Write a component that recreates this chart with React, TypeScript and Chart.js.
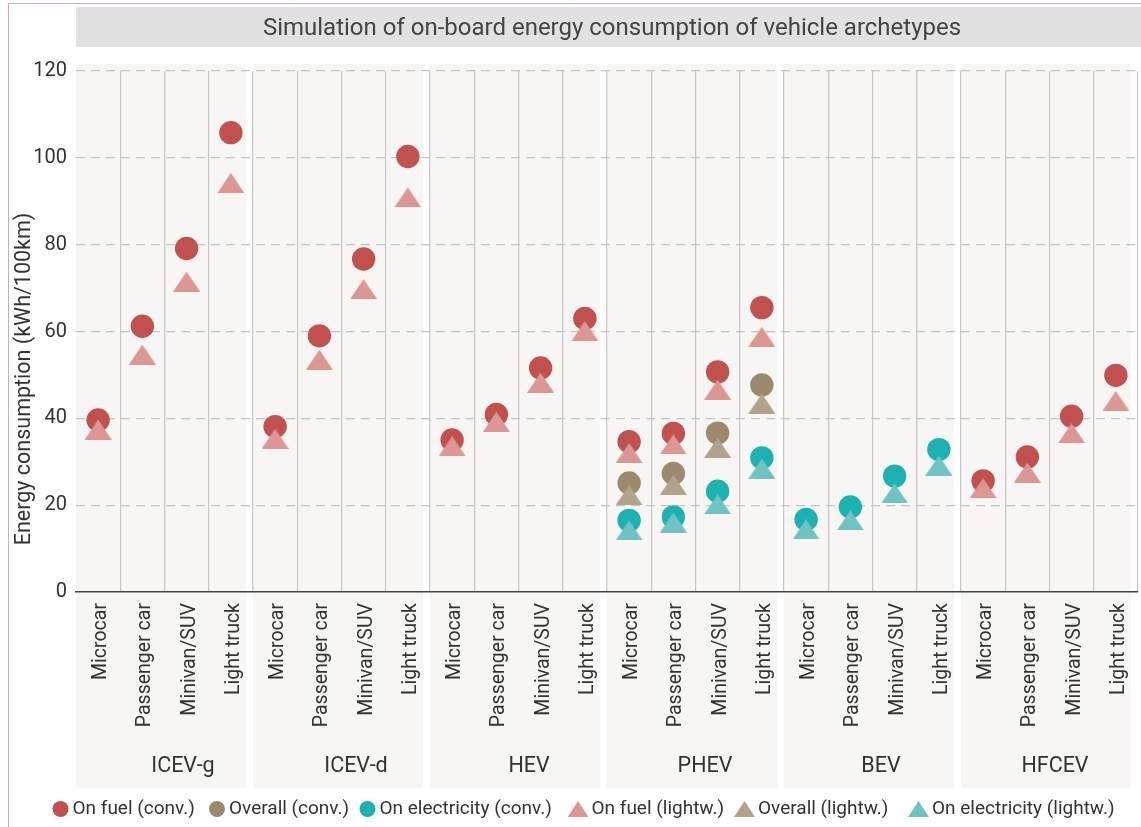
import React, { useEffect, useRef } from 'react';
import { Chart, registerables } from 'chart.js';

Chart.register(...registerables);

const chartTitle = 'Simulation of on-board energy consumption of vehicle archetypes';
const yAxisTitle = 'Energy consumption (kWh/100km)';
const archetypes = ['ICEV-g', 'ICEV-d', 'HEV', 'PHEV', 'BEV', 'HFCEV'];
const vehicleSizes = ['Microcar', 'Passenger car', 'Minivan/SUV', 'Light truck'];
const yTickValues = [0, 20, 40, 60, 80, 100, 120];

// 24 values each: archetype (ICEV-g, ICEV-d, HEV, PHEV, BEV, HFCEV) x size (Microcar, Passenger car, Minivan/SUV, Light truck)
const onFuelConv = [39.6, 61.2, 79.1, 105.8, 38.1, 59.0, 76.7, 100.3, 35.0, 40.9, 51.6, 63.0, 34.6, 36.5, 50.7, 65.5, null, null, null, null, 25.6, 31.1, 40.5, 49.9];
const overallConv = [null, null, null, null, null, null, null, null, null, null, null, null, 25.1, 27.3, 36.6, 47.7, null, null, null, null, null, null, null, null];
const onElecConv = [null, null, null, null, null, null, null, null, null, null, null, null, 16.5, 17.3, 23.2, 30.9, 16.7, 19.6, 26.7, 32.8, null, null, null, null];
const onFuelLight = [37.4, 54.7, 71.5, 94.2, 35.3, 53.5, 69.8, 90.9, 33.6, 39.2, 48.2, 60.1, 32.0, 34.0, 46.6, 58.8, null, null, null, null, 23.9, 27.5, 36.6, 44.0];
const overallLight = [null, null, null, null, null, null, null, null, null, null, null, null, 22.3, 24.7, 33.2, 43.4, null, null, null, null, null, null, null, null];
const onElecLight = [null, null, null, null, null, null, null, null, null, null, null, null, 14.2, 16.0, 20.2, 28.4, 14.4, 16.5, 22.7, 29.1, null, null, null, null];

const seriesNames = ['On fuel (conv.)', 'Overall (conv.)', 'On electricity (conv.)', 'On fuel (lightw.)', 'Overall (lightw.)', 'On electricity (lightw.)'];
const seriesValues = [onFuelConv, overallConv, onElecConv, onFuelLight, overallLight, onElecLight];
const seriesColors = ['#c1514f', '#9d8a6e', '#1db2b1', '#dc9795', '#b1a28b', '#6fc3c2'];
const seriesShapes = ['circle', 'circle', 'circle', 'triangle', 'triangle', 'triangle'];

const FONT = 'Roboto, "Noto Sans", sans-serif';

function makeTriangle(color: string, w: number, h: number) {
  const c = document.createElement('canvas');
  c.width = w;
  c.height = h;
  const g = c.getContext('2d')!;
  g.fillStyle = color;
  g.beginPath();
  g.moveTo(w / 2, 0);
  g.lineTo(w, h);
  g.lineTo(0, h);
  g.closePath();
  g.fill();
  return c;
}

const decorPlugin = {
  id: 'decor',
  beforeDraw(chart: any) {
    const { ctx, chartArea: a } = chart;
    const W = chart.width;
    const H = chart.height;
    ctx.save();
    ctx.fillStyle = '#ffffff';
    ctx.fillRect(0, 0, W, H);

    // frame
    ctx.strokeStyle = '#d6a0d2';
    ctx.lineWidth = 1;
    ctx.beginPath();
    ctx.moveTo(8.5, H);
    ctx.lineTo(8.5, 3.5);
    ctx.lineTo(W, 3.5);
    ctx.stroke();

    // title bar
    ctx.fillStyle = '#e1e1e1';
    ctx.fillRect(a.left, 7, W - a.left, 40);
    ctx.fillStyle = '#444444';
    ctx.font = `24px ${FONT}`;
    ctx.textAlign = 'center';
    ctx.textBaseline = 'middle';
    ctx.fillText(chartTitle, 612, 29);

    // panels + strip labels
    const band = (a.right - a.left) / archetypes.length;
    const stripOffsets = [107, 103, 99, 98, 97, 94];
    archetypes.forEach((name, k) => {
      const x0 = a.left + k * band;
      ctx.fillStyle = '#f7f6f4';
      ctx.fillRect(x0, 64, band - 7, 788 - 64);
      ctx.fillStyle = '#333333';
      ctx.font = `21.5px ${FONT}`;
      ctx.textAlign = 'center';
      ctx.textBaseline = 'alphabetic';
      ctx.fillText(name, x0 + stripOffsets[k], 772);
    });

    // y axis title
    ctx.save();
    ctx.translate(25, 379);
    ctx.rotate(-Math.PI / 2);
    ctx.fillStyle = '#333333';
    ctx.font = `21.5px ${FONT}`;
    ctx.textAlign = 'center';
    ctx.textBaseline = 'middle';
    ctx.fillText(yAxisTitle, 0, 0);
    ctx.restore();

    // legend
    const markerX = [60.5, 217, 367.5, 578, 744.5, 918.5];
    const ly = 809;
    seriesNames.forEach((name, i) => {
      const mx = markerX[i];
      ctx.fillStyle = seriesColors[i];
      if (seriesShapes[i] === 'circle') {
        ctx.beginPath();
        ctx.arc(mx, ly, 8, 0, Math.PI * 2);
        ctx.fill();
      } else {
        ctx.beginPath();
        ctx.moveTo(mx, ly - 8);
        ctx.lineTo(mx + 10.5, ly + 8);
        ctx.lineTo(mx - 10.5, ly + 8);
        ctx.closePath();
        ctx.fill();
      }
      ctx.fillStyle = '#333333';
      ctx.font = `19px ${FONT}`;
      ctx.textAlign = 'left';
      ctx.textBaseline = 'middle';
      ctx.fillText(name, mx + (seriesShapes[i] === 'circle' ? 12 : 13.5), ly);
    });
    ctx.restore();
  },
};

export default function App() {
  const ref = useRef<HTMLCanvasElement>(null);

  useEffect(() => {
    if (!ref.current) return;
    Chart.defaults.font.family = FONT;
    const labels = archetypes.flatMap(() => vehicleSizes);
    const datasets = seriesNames.map((name, i) => ({
      label: name,
      data: seriesValues[i],
      showLine: false,
      pointStyle: seriesShapes[i] === 'circle' ? 'circle' : makeTriangle(seriesColors[i], 27, 20),
      pointRadius: 11.7,
      pointHoverRadius: 11.7,
      pointBackgroundColor: seriesColors[i],
      pointBorderWidth: 0,
      pointHoverBorderWidth: 0,
      borderColor: seriesColors[i],
      backgroundColor: seriesColors[i],
      order: seriesShapes[i] === 'circle' ? 1 : 0,
      clip: false as any,
    }));

    const chart = new Chart(ref.current, {
      type: 'line',
      data: { labels, datasets: datasets as any },
      plugins: [decorPlugin],
      options: {
        animation: false,
        responsive: false,
        devicePixelRatio: 1,
        layout: { autoPadding: false, padding: { left: 0, top: 71, right: 3, bottom: 35 } },
        plugins: {
          legend: { display: false },
          title: { display: false },
          tooltip: { enabled: false },
        },
        events: [],
        scales: {
          x: {
            type: 'category',
            offset: true,
            grid: {
              offset: true,
              drawTicks: false,
              color: (c: any) => (c.index === 0 ? 'rgba(0,0,0,0)' : '#c6c6c6'),
              lineWidth: 1.2,
            },
            border: { display: true, color: '#444444', width: 1.5 },
            ticks: {
              autoSkip: false,
              maxRotation: 90,
              minRotation: 90,
              padding: 11,
              labelOffset: 3,
              color: '#333333',
              font: { size: 19.5, family: FONT },
            },
            afterFit: (s: any) => {
              s.height = 200;
              s.paddingLeft = 0;
              s.paddingRight = 0;
            },
          },
          y: {
            min: 0,
            max: 120,
            afterBuildTicks: (s: any) => {
              s.ticks = yTickValues.map((v) => ({ value: v }));
            },
            grid: {
              drawTicks: false,
              color: (c: any) => (c.tick && c.tick.value === 0 ? 'rgba(0,0,0,0)' : '#c4c4c4'),
              lineWidth: 1.2,
            },
            border: { display: false, dash: [9, 6] },
            ticks: {
              padding: 9,
              color: '#333333',
              font: { size: 20, family: FONT },
            },
            afterFit: (s: any) => {
              s.width = 76;
            },
          },
        },
      } as any,
    });

    let alive = true;
    if ((document as any).fonts && (document as any).fonts.load) {
      (document as any).fonts
        .load(`20px Roboto`)
        .then(() => {
          if (alive) chart.update();
        })
        .catch(() => {});
    }

    return () => {
      alive = false;
      chart.destroy();
    };
  }, []);

  return (
    <div style={{ position: 'absolute', left: 0, top: 0, width: 1141, height: 827 }}>
      <canvas ref={ref} width={1141} height={827} style={{ display: 'block', width: 1141, height: 827 }} />
    </div>
  );
}
